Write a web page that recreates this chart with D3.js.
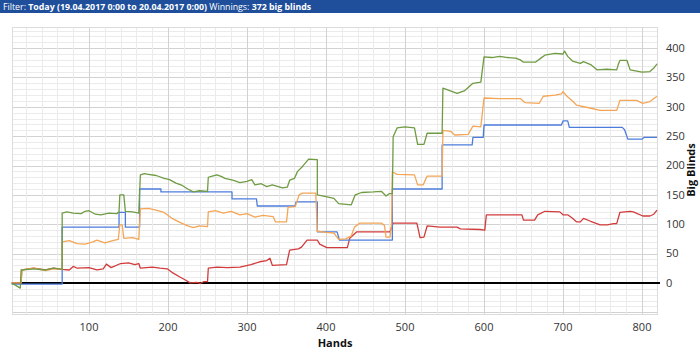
<!DOCTYPE html>
<html>
<head>
<meta charset="utf-8">
<script src="https://d3js.org/d3.v7.min.js"></script>
<style>
  body { margin: 0; background: #fff; }
  svg { display: block; }
</style>
</head>
<body>
<svg width="700" height="355"></svg>
<script>
var svg = d3.select("svg"),
    width = +svg.attr("width"),
    height = +svg.attr("height");

// [hand, big blinds] points
var greenPts = [[2,0],[13,-9],[14,22],[30,24],[45,22],[55,25],[66,23],[66,119],[72,121],[80,119],[90,118],[95,122],[100,123],[108,117],[115,116],[125,119],[135,118],[138,121],[139,150],[144,150],[146,122],[155,121],[163,119],[165,184],[170,186],[175,185],[185,183],[195,178],[202,176],[210,170],[218,166],[225,160],[232,155],[240,157],[250,156],[251,180],[256,182],[262,184],[268,181],[272,178],[282,175],[291,171],[300,173],[306,176],[310,167],[318,169],[325,164],[332,167],[345,162],[351,163],[354,175],[360,178],[364,190],[370,198],[378,211],[389,210],[389,150],[400,147],[410,144],[416,135],[432,133],[437,150],[445,154],[460,155],[470,156],[476,148],[480,152],[484,152],[485,249],[490,264],[500,266],[512,264],[516,236],[524,236],[528,255],[547,255],[548,332],[554,329],[560,326],[566,323],[575,327],[586,340],[596,342],[600,385],[610,384],[620,386],[630,384],[640,383],[646,380],[650,376],[665,376],[672,383],[677,388],[690,391],[700,390],[702,395],[706,386],[712,378],[722,374],[726,377],[735,372],[743,363],[755,364],[768,363],[770,372],[772,379],[781,379],[785,363],[800,359],[810,360],[815,366],[819,373]];

var orangePts = [[2,0],[14,0],[15,22],[30,25],[45,21],[55,24],[66,23],[66,70],[75,72],[85,67],[95,66],[105,70],[110,73],[120,68],[130,72],[137,74],[139,99],[142,99],[144,76],[155,77],[163,74],[165,126],[175,127],[185,124],[195,120],[205,110],[215,103],[225,97],[232,94],[240,97],[250,96],[251,121],[260,123],[270,119],[280,122],[291,116],[300,118],[310,112],[320,115],[333,113],[336,104],[350,104],[352,129],[361,130],[366,150],[370,153],[387,153],[389,88],[400,86],[410,85],[416,74],[425,75],[432,80],[436,95],[443,102],[470,102],[474,98],[476,78],[481,78],[483,100],[484,189],[490,185],[512,184],[516,167],[523,167],[528,182],[547,182],[548,260],[558,258],[563,252],[580,253],[586,267],[596,266],[600,315],[620,314],[646,314],[652,307],[670,306],[675,318],[690,320],[698,322],[700,326],[705,318],[712,310],[717,303],[734,298],[747,294],[768,294],[772,311],[793,311],[801,306],[810,309],[819,318]];

var bluePts = [[2,-2],[66,-2],[66,95],[138,95],[138,120],[146,120],[146,95],[164,95],[164,160],[191,160],[191,155],[281,155],[281,143],[312,143],[313,131],[361,131],[362,138],[389,138],[389,87],[414,87],[417,73],[484,73],[484,160],[547,160],[547,235],[585,235],[586,248],[599,248],[600,269],[698,269],[700,276],[706,276],[708,265],[775,265],[778,261],[782,245],[800,245],[803,248],[819,248]];

var redPts = [[2,0],[14,0],[15,22],[30,25],[45,22],[55,25],[66,23],[75,22],[80,28],[85,25],[100,26],[110,22],[118,24],[122,32],[128,26],[140,33],[150,34],[158,31],[163,33],[165,25],[180,27],[190,25],[199,24],[205,18],[215,10],[222,5],[228,0],[236,1],[241,-1],[245,2],[250,2],[251,25],[262,27],[275,26],[291,27],[305,31],[316,36],[325,38],[329,42],[332,30],[350,31],[354,56],[365,58],[369,61],[376,73],[389,73],[392,66],[401,60],[427,60],[430,76],[439,87],[481,87],[485,102],[515,102],[517,90],[519,77],[524,78],[528,97],[544,95],[566,95],[570,92],[595,91],[601,90],[603,116],[648,116],[650,107],[664,107],[668,116],[677,122],[696,121],[700,116],[706,116],[712,110],[717,104],[722,104],[726,110],[735,105],[747,99],[756,99],[764,101],[768,101],[772,120],[785,122],[789,121],[801,114],[810,114],[815,117],[819,124]];

var xTicks = [100, 200, 300, 400, 500, 600, 700, 800],
    yTicks = [0, 50, 100, 150, 200, 250, 300, 350, 400];

var series = [
  {name: "red", color: "#d23b3b", pts: redPts},
  {name: "blue", color: "#4d7ddc", pts: bluePts},
  {name: "orange", color: "#f4a656", pts: orangePts},
  {name: "green", color: "#6f9b43", pts: greenPts}
];

var x = d3.scaleLinear().domain([2.5, 819]).range([12, 657]),
    y = d3.scaleLinear().domain([-53, 436]).range([314, 27]);

// header strip
svg.append("rect")
    .attr("x", 0).attr("y", 0)
    .attr("width", width).attr("height", 13)
    .attr("fill", "#1f4f9b");

var head = svg.append("text")
    .attr("x", 3).attr("y", 9.5)
    .attr("fill", "#fff")
    .attr("font-family", "'Open Sans', sans-serif")
    .attr("font-size", 8.8);
head.append("tspan").text("Filter: ");
head.append("tspan").attr("font-weight", "bold").text("Today (19.04.2017 0:00 to 20.04.2017 0:00)");
head.append("tspan").text(" Winnings: ");
head.append("tspan").attr("font-weight", "bold").text("372 big blinds");

// grid
var grid = svg.append("g").attr("shape-rendering", "crispEdges");

grid.selectAll("line.hmin")
    .data(d3.range(-50, 436, 10))
    .enter().append("line")
      .attr("x1", x.range()[0]).attr("x2", x.range()[1])
      .attr("y1", function(d) { return Math.round(y(d)) + 0.5; })
      .attr("y2", function(d) { return Math.round(y(d)) + 0.5; })
      .attr("stroke", function(d) { return d % 50 == 0 ? "#d2d2d2" : "#ebebeb"; });

grid.selectAll("line.vmin")
    .data(d3.range(20, 819, 20))
    .enter().append("line")
      .attr("y1", y.range()[0]).attr("y2", y.range()[1])
      .attr("x1", function(d) { return Math.round(x(d)) + 0.5; })
      .attr("x2", function(d) { return Math.round(x(d)) + 0.5; })
      .attr("stroke", function(d) { return d % 100 == 0 ? "#d2d2d2" : "#ebebeb"; });

grid.append("rect")
    .attr("x", 12.5).attr("y", 27.5)
    .attr("width", 645).attr("height", 287)
    .attr("fill", "none")
    .attr("stroke", "#dcdcdc");

// zero line
svg.append("line")
    .attr("x1", 12).attr("x2", 660)
    .attr("y1", y(0)).attr("y2", y(0))
    .attr("stroke", "#000")
    .attr("stroke-width", 2);

// lines
var line = d3.line()
    .x(function(d) { return x(d[0]); })
    .y(function(d) { return y(d[1]); });

svg.append("g")
    .attr("fill", "none")
    .attr("stroke-width", 1.3)
    .attr("stroke-linejoin", "round")
  .selectAll("path")
  .data(series)
  .enter().append("path")
    .attr("stroke", function(d) { return d.color; })
    .attr("d", function(d) { return line(d.pts); });

// axes labels
svg.append("g")
    .attr("font-family", "'Open Sans', sans-serif")
    .attr("font-size", 11)
    .attr("fill", "#333")
  .selectAll("text")
  .data(xTicks)
  .enter().append("text")
    .attr("x", function(d) { return x(d); })
    .attr("y", 331)
    .attr("text-anchor", "middle")
    .text(function(d) { return d; });

svg.append("g")
    .attr("font-family", "'Open Sans', sans-serif")
    .attr("font-size", 11)
    .attr("fill", "#333")
  .selectAll("text")
  .data(yTicks)
  .enter().append("text")
    .attr("x", 666)
    .attr("y", function(d) { return y(d); })
    .attr("dy", "0.35em")
    .text(function(d) { return d; });

svg.append("text")
    .attr("x", 335).attr("y", 347)
    .attr("text-anchor", "middle")
    .attr("font-family", "'Open Sans', sans-serif")
    .attr("font-size", 11)
    .attr("font-weight", "bold")
    .attr("fill", "#111")
    .text("Hands");

svg.append("text")
    .attr("transform", "translate(695,170) rotate(-90)")
    .attr("text-anchor", "middle")
    .attr("font-family", "'Open Sans', sans-serif")
    .attr("font-size", 11)
    .attr("font-weight", "bold")
    .attr("fill", "#111")
    .text("Big Blinds");
</script>
</body>
</html>
